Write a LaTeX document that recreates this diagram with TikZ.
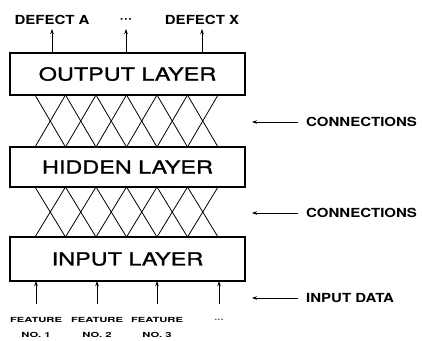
\documentclass[tikz,border=0pt]{standalone}
\usepackage{fontspec}
\newfontfamily\layerfont[FakeStretch=1.3,FakeBold=1.2]{TeX Gyre Heros}
\newfontfamily\tagfont[FakeStretch=1.2]{TeX Gyre Heros}
\newfontfamily\featfont[FakeStretch=1.6]{TeX Gyre Heros}
\usetikzlibrary{arrows.meta}
\begin{document}
\begin{tikzpicture}[x=1pt,y=-1pt, >={Stealth[length=5pt,width=3.5pt]},
 layer/.style={draw,line width=1.1pt,minimum width=235pt,
  inner sep=0pt,outer sep=0pt,font=\layerfont\fontsize{18}{18}\selectfont},
 tag/.style={font=\tagfont\bfseries\fontsize{12.5}{12.5}\selectfont,inner sep=2pt},
 feat/.style={font=\featfont\bfseries\fontsize{7}{15}\selectfont,align=center,inner sep=1pt},
 side/.style={->,line width=0.8pt,shorten <=6pt,shorten >=7pt}]
 \useasboundingbox (0,0) rectangle (422,340);
 % the three layers
 \node[layer,minimum height=42pt] (out) at (127.5,74) {OUTPUT LAYER};
 \node[layer,minimum height=40pt] (hid) at (127.5,167) {HIDDEN LAYER};
 \node[layer,minimum height=44pt] (inp) at (127.5,259) {INPUT LAYER};
 % full connections between the layers
 \foreach \i in {0,...,5}{
  \draw[line width=0.8pt] ([xshift=25pt+30.5pt*\i]out.south west) -- ([xshift=55.5pt+30.5pt*\i]hid.north west);
  \draw[line width=0.8pt] ([xshift=55.5pt+30.5pt*\i]out.south west) -- ([xshift=25pt+30.5pt*\i]hid.north west);
  \draw[line width=0.8pt] ([xshift=25pt+30.5pt*\i]hid.south west) -- ([xshift=55.5pt+30.5pt*\i]inp.north west);
  \draw[line width=0.8pt] ([xshift=55.5pt+30.5pt*\i]hid.south west) -- ([xshift=25pt+30.5pt*\i]inp.north west);
 }
 % outputs
 \coordinate (tops) at (0,29);
 \node[tag] (defA) at (52,20) {DEFECT A};
 \node[tag] (defD) at (126,20) {···};
 \node[tag] (defX) at (202,20) {DEFECT X};
 \foreach \n in {defA,defD,defX}
  \draw[->,line width=0.8pt] (\n |- out.north) -- (\n |- tops);
 % inputs
 \coordinate (feet) at (0,304);
 \node[feat] (f1) at (36,327) {FEATURE\\NO. 1};
 \node[feat] (f2) at (97,327) {FEATURE\\NO. 2};
 \node[feat] (f3) at (157,327) {FEATURE\\NO. 3};
 \node[feat] (fD) at (219,320) {···};
 \foreach \n in {f1,f2,f3,fD}
  \draw[->,line width=0.8pt] (\n |- feet) -- (\n |- inp.south);
 % right hand notes
 \node[tag,anchor=west] (con1) at (304,122) {CONNECTIONS};
 \node[tag,anchor=west] (con2) at (304,213) {CONNECTIONS};
 \node[tag,anchor=west] (data) at (304,298) {INPUT DATA};
 \foreach \n in {con1,con2,data}
  \draw[side] (\n.west) -- (\n.west -| out.east);
\end{tikzpicture}
\end{document}
